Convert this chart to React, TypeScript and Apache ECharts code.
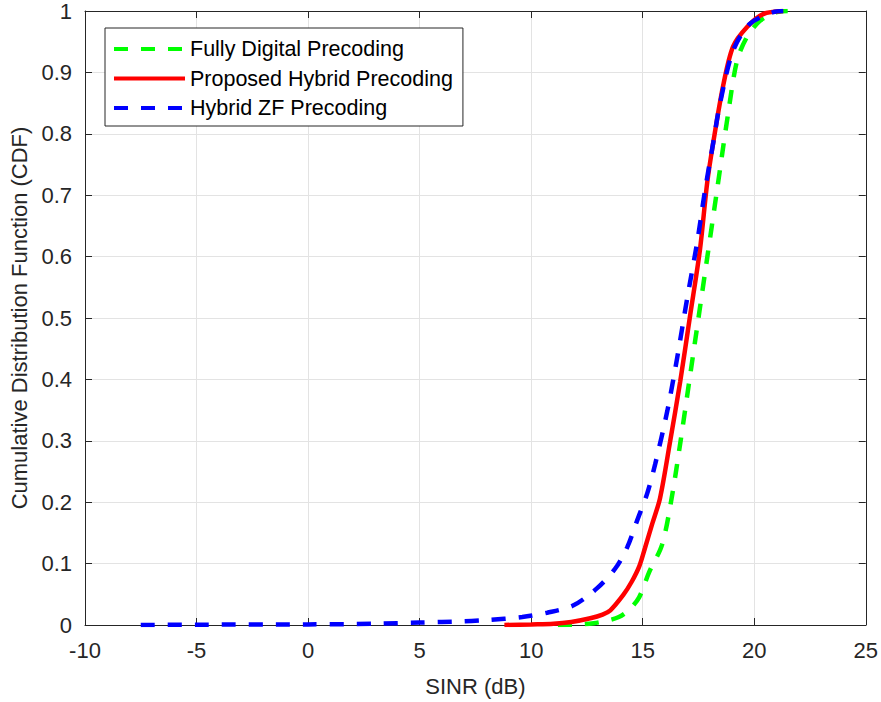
import React, { useEffect, useRef } from "react";
import * as echarts from "echarts";

const seriesNames = ["Fully Digital Precoding", "Proposed Hybrid Precoding", "Hybrid ZF Precoding"];
const seriesColors = ["#00ff00", "#ff0000", "#0000ff"];

const digitalX = [11.2, 12.2, 12.8, 13.4, 13.93, 14.4, 14.84, 15.29, 15.87, 16.3, 16.7, 17.1, 17.5, 17.9, 18.3, 18.83, 19.23, 19.68, 20.26, 21.0, 21.5];
const digitalY = [0, 0.001, 0.003, 0.007, 0.013, 0.025, 0.045, 0.086, 0.131, 0.207, 0.3, 0.4, 0.5, 0.6, 0.7, 0.833, 0.919, 0.958, 0.984, 0.998, 1.0];

const hybridX = [8.8, 10.0, 11.0, 11.8, 12.65, 13.2, 13.55, 14.13, 14.5, 14.85, 15.1, 15.43, 15.78, 16.23, 16.68, 17.13, 17.57, 17.89, 18.16, 18.6, 19.05, 19.68, 20.4, 21.3];
const hybridY = [0, 0.001, 0.002, 0.005, 0.011, 0.017, 0.024, 0.049, 0.07, 0.096, 0.125, 0.165, 0.207, 0.299, 0.396, 0.505, 0.612, 0.72, 0.785, 0.877, 0.942, 0.974, 0.995, 1.0];

const zfX = [-7.5, -5, 0, 3, 5, 7, 8, 9.6, 10.72, 11.9, 12.96, 13.77, 14.3, 14.75, 15.2, 15.56, 16.1, 16.54, 16.99, 17.44, 17.8, 18.16, 18.47, 19.05, 19.8, 20.84, 21.3];
const zfY = [0, 0.0005, 0.001, 0.002, 0.004, 0.006, 0.008, 0.013, 0.02, 0.032, 0.06, 0.092, 0.126, 0.17, 0.214, 0.262, 0.348, 0.434, 0.531, 0.623, 0.709, 0.785, 0.85, 0.935, 0.979, 0.998, 1.0];

const xTicks = { min: -10, max: 25, step: 5 };
const yTicks = { min: 0, max: 1, step: 0.1 };

const FONT = "'Liberation Sans', Arial, Helvetica, sans-serif";
const AXIS = "#262626";

function pairs(xs: number[], ys: number[]) {
  return xs.map((x, i) => [x, ys[i]]);
}

export default function App() {
  const ref = useRef<HTMLDivElement>(null);
  useEffect(() => {
    if (!ref.current) return;
    const chart = echarts.init(ref.current, null, { renderer: "svg" });
    const dashes = [true, false, true];
    const datas = [pairs(digitalX, digitalY), pairs(hybridX, hybridY), pairs(zfX, zfY)];
    const baseX = {
      type: "value" as const,
      min: xTicks.min,
      max: xTicks.max,
      interval: xTicks.step,
      axisLine: { show: true, onZero: false, lineStyle: { color: AXIS, width: 1 } },
      axisTick: { show: true, inside: true, length: 7, lineStyle: { color: AXIS } },
    };
    const baseY = {
      type: "value" as const,
      min: yTicks.min,
      max: yTicks.max,
      interval: yTicks.step,
      axisLine: { show: true, onZero: false, lineStyle: { color: AXIS, width: 1 } },
      axisTick: { show: true, inside: true, length: 7, lineStyle: { color: AXIS } },
    };
    chart.setOption({
      animation: false,
      backgroundColor: "#ffffff",
      grid: { left: 85, right: 15, top: 8, bottom: 77, containLabel: false },
      legend: {
        orient: "vertical",
        left: 105,
        top: 28,
        itemWidth: 71,
        itemHeight: 14,
        itemGap: 7.5,
        padding: [10, 10, 7, 7],
        borderColor: AXIS,
        borderWidth: 1,
        backgroundColor: "#ffffff",
        itemStyle: { opacity: 0, borderWidth: 0 },
        lineStyle: { width: 4 },
        textStyle: { fontFamily: FONT, fontSize: 21.5, color: "#000" },
        data: seriesNames,
      },
      xAxis: [
        {
          ...baseX,
          position: "bottom",
          name: "SINR (dB)",
          nameLocation: "middle",
          nameGap: 50,
          nameTextStyle: { fontFamily: FONT, fontSize: 22, color: AXIS },
          axisLabel: { fontFamily: FONT, fontSize: 22, color: AXIS, margin: 14 },
          splitLine: { show: true, lineStyle: { color: "#e3e3e3", width: 1 } },
        },
        {
          ...baseX,
          position: "top",
          axisLabel: { show: false },
          splitLine: { show: false },
        },
      ],
      yAxis: [
        {
          ...baseY,
          position: "left",
          name: "Cumulative Distribution Function (CDF)",
          nameLocation: "middle",
          nameGap: 54,
          nameTextStyle: { fontFamily: FONT, fontSize: 22, color: AXIS },
          axisLabel: { fontFamily: FONT, fontSize: 22, color: AXIS, margin: 13 },
          splitLine: { show: true, lineStyle: { color: "#e3e3e3", width: 1 } },
        },
        {
          ...baseY,
          position: "right",
          axisLabel: { show: false },
          splitLine: { show: false },
        },
      ],
      series: seriesNames.map((name, i) => ({
        name,
        type: "line",
        xAxisIndex: 0,
        yAxisIndex: 0,
        data: datas[i],
        showSymbol: false,
        symbol: "none",
        smooth: 0.3,
        lineStyle: {
          color: seriesColors[i],
          width: 4.5,
          type: dashes[i] ? [14, 13] : "solid",
        },
        itemStyle: { color: seriesColors[i] },
        z: 2 + i,
      })),
    });
    return () => chart.dispose();
  }, []);
  return (
    <div
      ref={ref}
      style={{ position: "fixed", left: 0, top: 0, width: 881, height: 702 }}
    />
  );
}
